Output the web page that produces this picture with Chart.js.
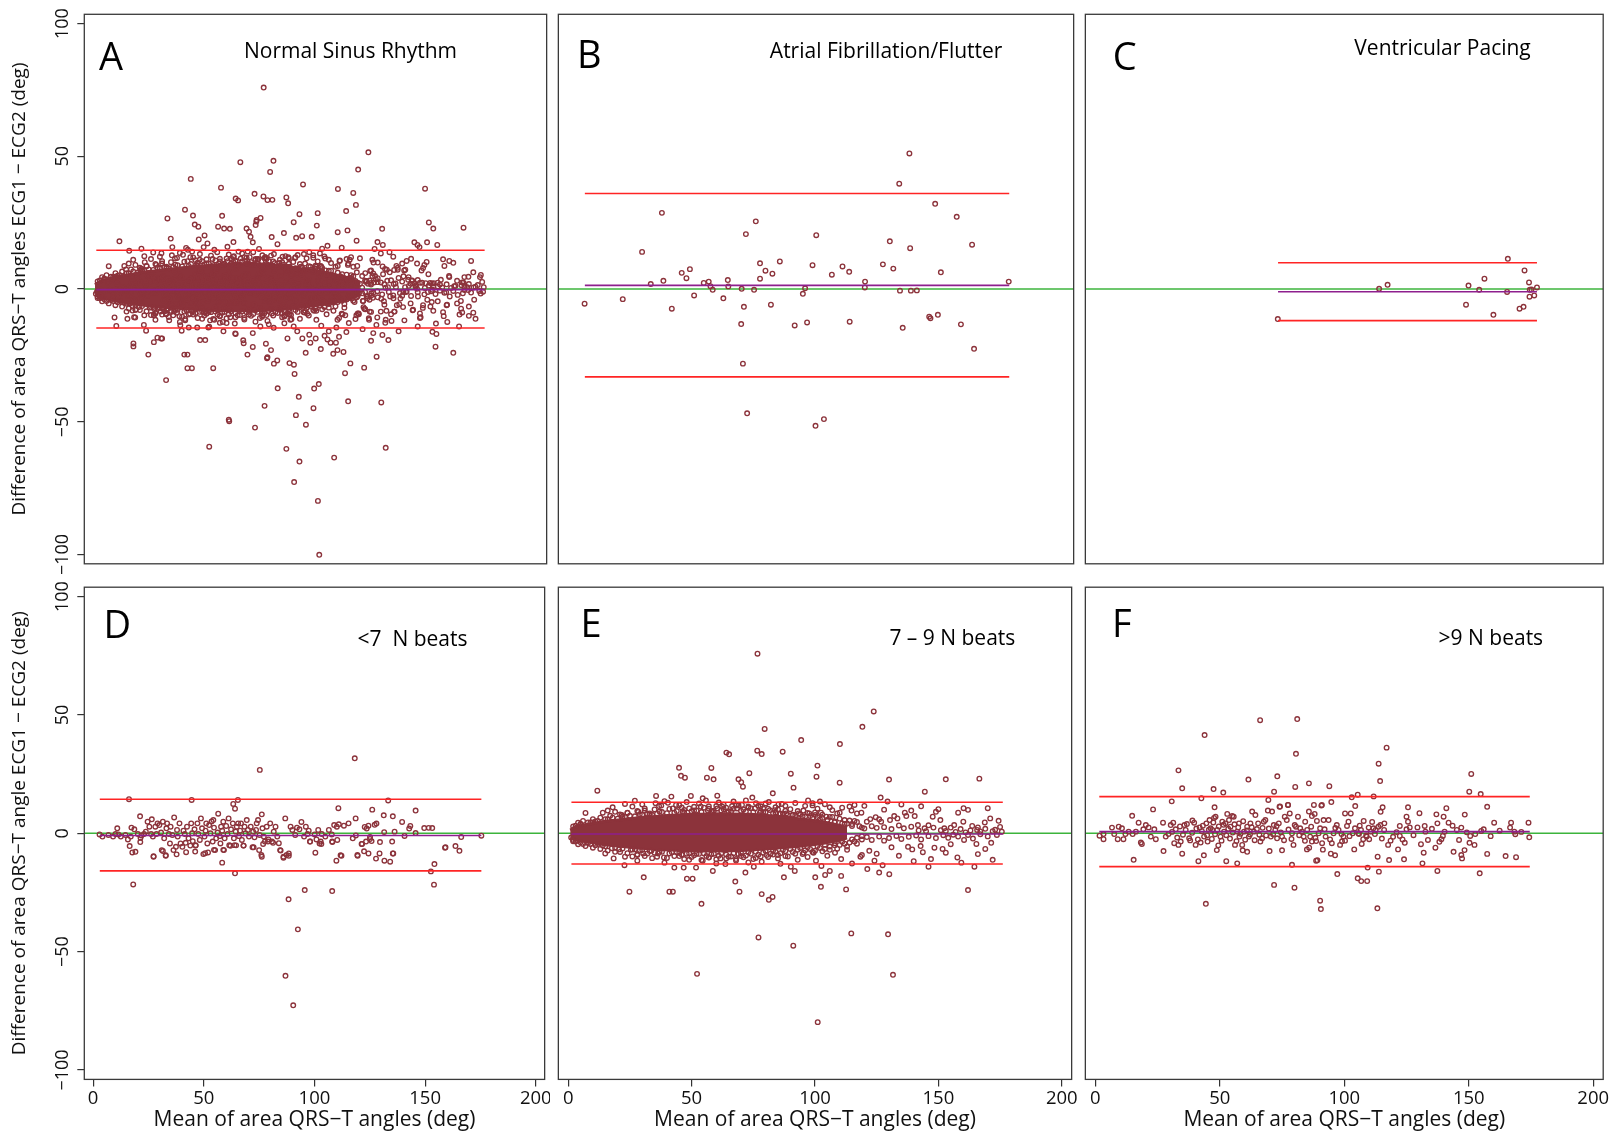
<!DOCTYPE html>
<html><head><meta charset="utf-8">
<script src="https://cdn.jsdelivr.net/npm/chart.js@4.4.1/dist/chart.umd.min.js"></script>
<style>
html,body{margin:0;padding:0;background:#fff;width:1619px;height:1141px;overflow:hidden;}
.p{position:absolute;}
</style></head><body>
<div class="p" style="left:0px;top:0px;width:552px;height:578px"><canvas id="cA"></canvas></div>
<div class="p" style="left:553px;top:0px;width:526px;height:578px"><canvas id="cB"></canvas></div>
<div class="p" style="left:1080px;top:0px;width:539px;height:578px"><canvas id="cC"></canvas></div>
<div class="p" style="left:0px;top:578px;width:550px;height:563px"><canvas id="cD"></canvas></div>
<div class="p" style="left:553px;top:578px;width:524px;height:563px"><canvas id="cE"></canvas></div>
<div class="p" style="left:1080px;top:578px;width:539px;height:563px"><canvas id="cF"></canvas></div>
<script>
// ---------- axes ----------
const xTicks = [0, 50, 100, 150, 200];
const xTickLabels = ['0', '50', '100', '150', '200'];
const yTicks = [-100, -50, 0, 50, 100];
const yTickLabels = ['\u2212100', '\u221250', '0', '50', '100'];
const xTitle = 'Mean of area QRS\u2212T angles (deg)';
const yTitleTop = 'Difference of area QRS\u2212T angles ECG1 \u2212 ECG2 (deg)';
const yTitleBottom = 'Difference of area QRS\u2212T angle ECG1 \u2212 ECG2 (deg)';

// ---------- panel B: atrial fibrillation / flutter ----------
const afibLimits = [36.0, -33.1];
const afibMean = 1.4;
const afibSpan = [6.7, 178.0];
const afibPoints = [[137.7,51.1],[133.6,39.7],[148.1,32.1],[156.8,27.2],[37.8,28.7],[75.7,25.5],[71.7,20.7],[100.1,20.3],[163,16.7],[29.8,14.0],[129.8,18.0],[138,15.4],[85.4,10.4],[77.4,9.7],[98.6,9.0],[127,9.3],[131.2,7.7],[110.7,8.5],[113.4,6.5],[106.4,5.4],[79.6,6.9],[82.4,5.8],[77.4,3.9],[150.4,6.3],[45.8,6.1],[49.1,7.5],[47.7,4.1],[38.4,3.1],[33.3,1.9],[54.7,2.3],[56.7,2.8],[57.4,1.1],[58.3,-0.3],[64.4,3.4],[64.6,1.0],[70,0.1],[75,-0.3],[95.6,0.3],[94.7,-1.8],[119.8,2.8],[119.7,0.6],[133.9,-0.6],[138.3,-0.6],[140.7,-0.5],[177.8,2.8],[50.8,-2.4],[62.6,-3.5],[22,-3.8],[6.6,-5.5],[41.8,-7.4],[70.9,-6.7],[69.8,-13.2],[81.8,-5.9],[91.4,-13.7],[96.4,-12.6],[113.6,-12.3],[135,-14.6],[145.7,-10.4],[146.2,-11],[149.2,-9.7],[158.5,-13.3],[163.8,-22.5],[70.5,-28.1],[72.2,-46.8],[99.8,-51.5],[103.2,-49.0]];

// ---------- panel C: ventricular pacing ----------
const vpLimits = [9.9, -11.9];
const vpMean = -1.0;
const vpSpan = [73.4, 177.4];
const vpPoints = [[165.7,11.4],[172.4,7.0],[156.3,3.9],[174.2,2.5],[149.9,1.3],[154.2,-0.3],[114,0.1],[117.4,1.6],[165.4,-1.1],[174.5,-0.3],[175.2,-0.2],[177.4,0.6],[174.4,-2.9],[176.3,-2.4],[148.9,-5.9],[172,-6.7],[170.4,-7.4],[159.9,-9.7],[73.3,-11.3]];

// ---------- panel D: <7 N beats ----------
const lowLimits = [14.4, -15.9];
const lowMean = -0.9;
const lowSpan = [3.0, 175.4];
const lowPoints = [[2.9,-0.5],[4.2,-1.4],[6.9,-0.7],[9.0,-1.4],[10.1,-0.3],[10.9,2.1],[11.4,-0.5],[12.5,-1.4],[14.6,-0.7],[15.7,-2.6],[16.5,-5.4],[17.0,-1.4],[17.3,2.4],[17.7,-8.1],[18.6,1.7],[19.1,-7.8],[20.2,-0.3],[21.4,-1.9],[21.2,7.2],[21.8,-0.9],[23,-0.3],[23.8,0.7],[24.6,4.9],[25.4,2.8],[26.2,-0.3],[26.5,5.9],[27,-1.4],[27.3,-9.7],[28.1,2.8],[28.6,-0.3],[29.1,4.2],[29.9,3.5],[30.7,0.3],[31,-7.1],[31.5,4.9],[32.1,-2.1],[32.8,-9.3],[33.1,2.1],[33.4,4.2],[34.2,-0.3],[34.7,-4.3],[35,2.8],[35.8,-0.7],[36.3,-7.1],[36.6,6.7],[37.4,-5.7],[37.9,1.4],[38.2,-1.4],[39,4.2],[39.5,-4.3],[40.3,-5.7],[40.8,1.1],[41.4,-0.3],[41.8,-4.0],[42.4,2.8],[43.1,-2.1],[43.9,-5.2],[44.3,4.2],[44.7,0.0],[45,-3.3],[45.8,1.7],[46.3,-5.0],[47.1,4.2],[47.5,-0.3],[48.2,-2.8],[48.7,6.3],[49.2,2.1],[49.8,-8.8],[50.3,-1.4],[50.8,1.1],[51.1,4.2],[51.6,-4.3],[51.9,-8.1],[52.4,3.5],[53,0.0],[53.5,5.0],[54,-3.5],[54.3,5.6],[54.6,2.4],[55.1,-7.1],[55.6,-2.1],[56.2,0.3],[56.5,8.3],[57.2,-1.2],[57.5,-4.3],[57.8,2.8],[58.3,1.1],[58.8,4.9],[59.1,-7.1],[59.4,-2.1],[60.1,3.1],[60.7,-0.3],[61.2,6.3],[61.5,-5.0],[62.3,1.7],[63.1,4.2],[63.6,-2.1],[63.9,-5.0],[64.4,0.7],[64.9,2.8],[65.5,4.2],[65.9,-1.2],[66.4,1.1],[66.8,4.2],[67.2,-2.8],[67.9,-5.2],[68.4,2.8],[68.8,0.0],[69.4,5.6],[69.9,1.4],[70.4,-1.4],[71.2,2.8],[72,-5.9],[72.3,0.7],[72.9,-1.7],[73.6,1.4],[73.9,4.2],[74.5,5.6],[75.2,-0.7],[76,-9.2],[76.2,8.0],[76.5,2.1],[77.1,-1.4],[77.6,-3.5],[78.4,2.8],[79.2,-2.6],[80,4.2],[80.8,-3.5],[81.6,0.7],[82.4,2.8],[83.2,-1.4],[84.5,-7.1],[86,-9.9],[86.8,6.3],[87.4,-9.2],[88.4,-9.5],[89.2,2.8],[90,1.4],[91.3,-0.7],[92.1,2.4],[93.2,1.7],[94.1,4.8],[95.3,-1.4],[96.1,2.8],[96.9,-0.3],[97.4,1.1],[98,-3.5],[100.1,-0.5],[100.9,-2.6],[101.7,1.4],[102.3,-4.3],[103.3,-0.3],[104.9,-1.4],[106.5,1.4],[107.8,-0.5],[108.1,-3.7],[108.9,3.5],[110.1,2.8],[111,3.8],[111.8,-9.3],[113.3,3.2],[115.4,4.2],[117.3,-2.1],[118.6,6.3],[118.7,-0.9],[119.4,-9.2],
[121.5,-4.5],[122.7,2.7],[123.6,2.0],[124.4,3.2],[125.1,-1.6],[125.1,-2.4],[126.1,10.0],[125.8,-3.3],[127.2,3.6],[128,4.1],[129.6,-3.7],[131.3,7.6],[131.5,0.5],[133.3,13.9],[135.1,-3.5],[135.4,7.2],[135.4,-8.5],[136.2,0.7],[139.6,4.8],[140.7,-1.1],[143.3,3.1],[142.8,2.0],[145.7,9.6],[145.7,0.1],[149.6,2.2],[151.6,2.3],[153.2,2.2],[159.2,-5.9],[163.7,-5.4],[165.5,-7.4],[166.3,-1.6],[175.4,-1.0],
[118.2,31.7],[75.3,26.8],[16.2,14.4],[44.5,14.1],[65.4,14.1],[63.3,12.4],[64.1,10.4],[110.8,10.6],
[18.1,-21.6],[64.1,-16.9],[58.3,-12.4],[95.6,-24.0],[108,-24.4],[88.3,-27.9],[92.5,-40.6],[86.9,-60.2],[90.4,-72.7],[152.6,-16.1],[154,-21.7],[154.2,-13.0],[159,-6.1],[27.3,-9.9],[32.8,-9.5],[31.5,-7.5],[37.7,-8.9],[42,-8.0],[46.1,-7.7],[21.3,-3.7],[50.6,-8.4],[46.3,-5.2],[54.6,-7.0],[58.8,-7.0],[62,-5.3],[64.6,-5.1],[68,-5.2],[72.5,-5.9],[75,-7.1],[76.2,-9.9],[76.8,-4.5],[79,-3.5],[81.3,-4],[83.9,-4.2],[84.7,-7.3],[86,-10.3],[88.4,-8.5],[100.4,-8.2],[109.9,-11.6],[112.2,-9.5],[119.5,-9.5],[122.4,-7.6],[124.4,-8.5],[127.8,-10.7],[129.4,-8.5],[131.6,-11.6],[134.2,-12],[135.6,-8.5],[121.3,-4.5],[123.3,-3.5],[108,-3.5],[110.3,-2.8],[102.8,-3.5],[103.1,-4.5],[98,-3.5]];

// ---------- panel E: 7-9 N beats ----------
const midLimits = [13.1, -13.0];
const midMean = -0.3;
const midSpan = [1.3, 176.1];
// overplotted (solid) core of the cloud: envelope
const midCoreX = [0.8, 3, 7, 12, 18, 26, 34, 42, 50, 58, 66, 74, 82, 90, 98, 104, 109, 113];
const midCoreUpper = [1.4, 2.8, 3.6, 4.6, 5.4, 6.3, 7.0, 7.6, 8.0, 8.2, 8.2, 8.0, 7.4, 6.6, 5.6, 4.6, 3.6, 2.4];
const midCoreLower = [-2.0, -2.8, -3.5, -4.4, -5.2, -6.0, -6.6, -7.1, -7.4, -7.5, -7.4, -7.1, -6.5, -5.8, -5.0, -4.1, -3.2, -2.0];
const midPoints = [[76.7,75.9],[123.8,51.5],[119.2,45.0],[79.6,44.1],[94.4,39.4],[110.1,37.7],[64.1,34.1],[65.2,33.4],[76.6,34.9],[78.4,33.5],[86.9,34.5],[44.9,27.7],[58,27.6],[101,28.6],[45.7,24.3],[47.3,23.5],[56.2,23.5],[58.9,22.8],[73.4,25.4],[90.2,25.2],[100.6,23.9],[69,22.8],[70.1,21.6],[70.8,19.7],[91.3,19.3],[110,21.4],[130,22.7],[153,22.8],[166.6,23.1],[11.8,18.0],
[7.0,8.6],[9.8,4.6],[14.0,8.7],[16.0,9.6],[19.0,9.1],[21.7,7.7],[24,8.7],[26,11.3],[28.4,9.1],[31,10.5],[33,8.4],[35.4,12.7],[35.6,15.8],[36.8,11.5],[37.7,11.7],[40.4,12.9],[41.8,15.5],[42.4,10.5],[43.7,12.0],[46.4,9.1],[49,10.5],[49.7,15.8],[51,9.6],[53.7,11.3],[54.5,14.8],[55.8,13.9],[56.6,9.6],[58.5,9.1],[60.4,15.9],[60.4,10.5],[62.4,11.3],[64.4,8.7],[66.4,11.5],[68.4,10.5],[70.4,12.0],[73,11.3],[74.6,15.1],[75.7,10.5],[76.1,12.7],[77.7,8.7],[79,10.5],[81.3,13.2],[81.7,9.8],[82.9,16.9],[83.7,9.8],[85.2,12.2],[85.7,8.4],[86.5,12.4],[88.4,8.4],[91,7.7],[93.4,8.4],[95.3,9.6],[97.2,13.9],[97.7,8.4],[99,12.7],[99,11.8],[100.1,7.7],[102,13.4],[102.4,8.7],[104.6,7.0],[107,9.8],[109,8.4],[110,8.7],[114,11.3],[114.8,9.6],[117,8.4],[118.8,8.7],[121,4.9],[122.4,6.0],[124.6,6.8],[126,5.9],[126.6,15.1],[126.8,4.9],[129.4,13.4],[130.4,5.6],[132.1,7.3],[133.4,6.3],[136.4,8.7],[137,7.3],[140.4,7.3],[141.7,3.5],[144.4,2.1],[144.5,17.6],[147.7,7.0],[149,9.1],[150.8,5.6],[152.4,2.1],[156.4,3.5],[160.1,4.9],[160.2,10.6],[163.7,3.1],[165.7,1.4],[168.8,4.6],[171,6.3],[174.4,5.3],[175.7,0.7],
[3,3.2],[5,4.0],[8,4.6],[12,5.2],[15,6.0],[18,6.6],[22,7.0],[25,7.4],[29,8.1],[32,8.3],[34,7.8],[38,9.0],[44,9.4],[47,9.9],[52,9.6],[57,10.4],[59,9.5],[63,10.2],[65,9.3],[67,10.4],[71,10.1],[72,9.2],[74,10.6],[78,9.4],[80,9.0],[84,8.8],[87,8.4],[89,7.7],[92,7.6],[94,8.0],[96,7.1],[98,7.3],[101,6.8],[103,6.5],[105,5.6],[106,6.9],[108,5.0],[111,4.2],[112,5.6],[113,4.1],[115,3.9],[116,5.2],[118,3.0],[120,2.0],[123,3.0],[125,2.3],[128,2.6],[131,1.8],[134,3.3],[136,2.1],[139,2.8],[142,1.2],[145,0.9],[146,3.4],[148,2.4],[151,1.3],[153,1.0],[155,2.4],[157,0.6],[159,1.8],[161,0.4],[163,1.2],[166,2.5],[167,0.8],[169,1.9],[172,0.9],[173,1.5],[175,2.7],
[2,2.9],[4,4.5],[5,3.6],[6,5.2],[9,4.6],[10,6.0],[11,5.0],[13,6.6],[16,5.9],[17,7.4],[20,6.2],[21,8.0],[23,6.9],[24,8.6],[27,7.2],[28,9.4],[30,7.8],[31,9.6],[33,7.9],[35,10.1],[36,8.3],[37,9.2],[40,8.5],[41,10.3],[43,8.7],[46,10.9],[47,8.8],[50,9.3],[51,11.2],[54,9.0],[55,10.8],[58,9.3],[60,11.5],[62,9.6],[64,10.8],[66,9.2],[68,12.0],[70,9.5],[73,10.9],[75,9.0],[77,11.6],[79,8.9],[81,10.4],[83,8.5],[85,10.1],[86,8.2],[88,9.5],[91,7.8],[93,9.4],[95,7.2],[97,8.6],[99,6.6],[100,8.8],[102,6.0],[103,7.9],[105,5.6],[107,6.9],[108,4.6],[110,6.2],[112,3.9],[114,5.4],[115,3.1],[117,4.8],[119,2.4],
[18,11.0],[23,12.4],[27,13.8],[30,12.2],[39,13.6],[45,11.9],[48,13.2],[53,12.6],[57,11.4],[61,13.0],[63,12.1],[67,13.4],[69,11.8],[72,13.9],[78,11.4],[80,12.6],[84,11.0],[88,11.6],[90,10.2],[92,12.8],[96,11.6],[101,10.4],[104,12.3],[106,11.0],[111,10.8],[116,12.0],[120,11.6],[128,10.0],[135,12.2],[139,9.6],[143,11.4],[150,10.2],[158,8.7],[162,9.9],[170,10.6],
[2,-2.8],[3,-3.5],[6,-4.5],[8,-4.1],[12,-4.5],[14,-5.2],[17.7,-6.3],[20.6,-6.8],[25.4,-7.0],[27,-6.8],[30,-7.1],[33.7,-7.4],[35,-8.2],[38,-7.8],[41,-8.5],[44,-8.0],[46,-9.0],[48,-8.6],[51,-9.3],[53,-8.7],[56,-9.6],[58,-8.9],[61,-9.5],[64,-9.0],[66,-9.8],[69,-8.7],[72,-9.4],[74,-8.6],[77,-9.1],[79,-8.2],[82,-8.6],[84,-7.8],[86,-8.4],[88,-7.5],[91,-7.9],[93,-6.9],[96,-7.2],[98,-6.6],[100,-7.4],[102,-6.2],[104,-6.6],[106,-5.6],[108,-5.1],[110,-4.9],[112,-4.4],[114,-3.9],[116,-3.5],[117,-1.9],[119,-2.6],[121,-1.6],[123,-2.8],[126,-1.4],[128,-3.1],[130,-2.0],[133,-1.1],[135,-2.4],[138,-1.5],[141,-0.9],[143,-2.6],[146,-1.2],[149,-2.0],[152,-0.8],[154,-1.9],[156,-0.6],[158,-1.4],[162,-0.7],[164,-2.2],[167,-0.4],[170,-1.3],[173.7,-0.7],
[2,-3.4],[4,-4.6],[5,-3.8],[7,-5.4],[9,-4.5],[10,-6.1],[11,-5.0],[13,-6.6],[15,-5.5],[16,-7.3],[19,-6.1],[21,-7.9],[22,-6.4],[24,-8.4],[26,-6.8],[28,-8.9],[29,-7.1],[31,-9.6],[33,-7.5],[36,-9.9],[37,-7.8],[40,-10.4],[42,-8.0],[43,-9.6],[45,-8.3],[47,-10.9],[49,-8.4],[50,-10.0],[52,-8.6],[54,-11.3],[55,-8.5],[57,-10.2],[59,-8.6],[60,-11.0],[62,-8.4],[64,-10.6],[67,-8.4],[68,-10.9],[70,-8.2],[71,-10.1],[73,-8.0],[75,-10.9],[76,-7.8],[78,-9.8],[80,-7.5],[81,-10.0],[83,-7.3],[85,-9.2],[87,-6.9],[88,-9.6],[90,-6.6],[92,-8.6],[94,-6.2],[95,-8.8],[97,-5.9],[99,-7.9],[101,-5.4],[103,-7.6],[104,-4.9],[106,-7.0],[108,-4.2],[109,-6.5],[111,-3.6],[113,-5.6],[115,-2.6],[117,-4.4],[119,-1.2],
[1.2,-1.8],[18.4,-10.6],[23,-9.9],[22.8,-13.5],[24.8,-24.7],[28,-9.2],[28,-11.6],[30.4,-8.5],[30.6,-18.6],[32.1,-8.5],[36.4,-8.5],[38.8,-10.2],[41,-24.7],[42.4,-24.7],[43,-14.5],[46.8,-14.5],[48.1,-19.2],[50.4,-19.2],[51.8,-14.5],[54,-29.8],[54.5,-11.6],[58.6,-15.9],[61.7,-10.6],[63.7,-13],[67.7,-20.4],[69.4,-24.7],[71.8,-16.6],[75.2,-14.1],[78.4,-25.7],[81.3,-28.1],[82.8,-26.9],[78.4,-12],[80.4,-9.2],[85,-10.6],[87.4,-18.6],[90.2,-14.1],[91.8,-15.9],[95.4,-8.2],[99.4,-8.2],[100.1,-18.6],[100.4,-11.6],[102.4,-22.6],[102.6,-13.8],[104.1,-17.6],[106,-15.9],[108.1,-8.2],[110.6,-10.9],[110.6,-18],[112.6,-23.7],[118.4,-9.9],[119,-9.2],[121.2,-15.1],[124.1,-11.6],[126,-16.6],[127.4,-13.5],[130.1,-17.3],[131,-5.9],[137.7,-5.7],[139.4,-6.8],[142.8,-5.4],[143.7,-8],[146,-14.1],[147,-10.9],[148.4,-6.1],[151.7,-6.6],[157.7,-10.2],[159.3,-12.4],[162,-24],[164.6,-14.1],[169,-6.6],[171.4,-4],[165.4,-4.5],[160.4,-2.8],
[15,-8.5],[19,-7.8],[26,-9.8],[34,-10.5],[39,-12.4],[45,-9.6],[49,-11.2],[57,-10.1],[60,-12.8],[65,-9.9],[68,-11.5],[70,-9.6],[73,-12.3],[76,-10.4],[83,-9.0],[86,-12.9],[89,-9.8],[93,-11.2],[97,-10.0],[105,-9.5],[113,-7.0],[115,-12.8],[122,-7.4],[125,-8.6],[134,-9.5],[140,-11.8],[153,-8.2],[155,-4.6],[166,-8.8],[172,-11.2],
[52.2,-59.4],[77.1,-44],[91.2,-47.5],[114.7,-42.3],[129.6,-42.7],[131.6,-59.8],[101.1,-79.8]];

// ---------- panel F: >9 N beats ----------
const highLimits = [15.5, -14.1];
const highMean = 0.7;
const highSpan = [1.6, 174.5];
const highPoints = [[66.2,47.8],[81.1,48.3],[43.9,41.5],[80.6,33.6],[117,36.2],[113.8,29.4],[114.4,22.1],[33.4,26.6],[34.9,19],[61.5,22.7],[73.1,24.1],[151,25.1],[150.2,17.6],[154.8,16.6],[80.3,19.6],[85.8,21.1],[94,19.9],[71.8,17.6],[47.5,18.7],[51.4,17.2],[42.6,14.8],[30.7,13.5],[69.5,14.1],[94.8,13.2],[103,15.2],[105.4,16.3],[111.8,15.6],[104.4,11.5],[87.8,12],[90.8,11.7],[77.4,12],[74,11.2],[47.9,11],[23.2,10.1],[14.8,7.4],[125.6,11],[141,10.6],[157.4,11.2],[115.4,11],[114.6,9.1],[130.2,8.5],[137,8],[139.9,7],[148.4,7.9],[141.9,4.5],[137.4,4.2],[160.2,4.5],[167,4.5],[174,4.5],[166.6,2.4],[168.3,0.7],[168.7,-0.4],[174.3,-1.7],[156,1.7],[155,1],[152.6,-0.3],[150.6,-1.1],[152.3,-4.9],[150.3,-4],[147,2.4],[145.2,1.4],[139.6,-1.1],[140.3,0.7],[139,-2.5],[136.6,-6.1],[133.6,-2.8],[131.9,-8.2],[131.4,-12.7],[137.4,-15.9],[143.9,-7.8],[147,-9.2],[147.3,-10.6],[148.3,-7.1],[154.4,-16.9],[157.4,-8.7],[164.8,-9.6],[169,-10.1],[124.3,-4],[122.3,-1.1],[121.6,-6.8],[124,-11],[118,-11.3],[117.6,-4.9],[118.6,-3.1],[121,0.5],[125,1.7],[126.3,2.5],[129.4,2.5],[132.3,3.1],[132.6,0.7],[125.6,4.9],[125,7],[122.3,3.1],[116,1.4],[113.4,-9.9],[113.9,-16.2],[113.3,-31.7],[109.4,-14.5],[109.2,-20.2],[106.8,-20.2],[105.4,-19],[97.2,-17.2],[96.3,-9.3],[94.6,-8.6],[91.4,-6.9],[89.2,-11.4],[88.7,-11.6],[90.3,-28.5],[90.6,-32],[80,-23],[79,-13.3],[71.8,-21.8],[61,-7.8],[59.2,-7.2],[57,-12.7],[52.6,-11.8],[48.8,-7.1],[44.4,-29.8],[43.6,-9.3],[41.4,-11.8],[34.9,-8.6],[27.4,-7.5],[15.4,-11.2],[70,-7.5],[75,-7.2],[79.6,-4.9],[85,-6.8],[85.9,-6.1],[87,-3.5],[88.7,-3.3],[91.1,-4.2],[95,-4.2],[98.3,-4.9],[100.3,-3.1],[104,-6.8],[107.6,-2.5],[110,-2.5],[112.3,-0.3],[107,-4.5],[105.9,-0.3],
[1.7,-1.0],[3.3,-2.5],[3.3,-0.3],[6.7,2.4],[7.6,-0.3],[9,-2.5],[9.4,2.8],[10.7,2.1],[11.3,-2.5],[12.1,-0.3],[13.4,0.7],[15,-0.3],[16.3,0.7],[17.4,4.5],[18.3,-3.9],[18.7,-4.5],[19.3,1.7],[20.3,3.5],[21.4,2.5],[22.3,-1.4],[23.7,1.7],[24.3,-2.5],[27.2,4.5],[28.3,-1.4],[29.4,-0.3],[30.3,3.5],[31.3,4.5],[31.7,-4.2],[32.3,1.7],[33.4,-4.9],[34.3,-3.5],[35.8,3.5],[36.3,1.4],[37.7,-2.1],[39,5.4],[39.7,4.5],[40.3,-4.9],[41.9,2.5],[42.3,-3.9],[43.7,-1.4],[44.6,4.2],[45.1,-3.5],[45.9,5.6],[46.3,2.1],[47,1.4],[47.7,6.5],[48.3,7.0],[49,1.4],[49.4,-5.1],[50.3,-1.4],[51,4.9],[51.7,0.7],[52.3,4.2],[53,8.2],[53.7,5.6],[54.3,2.8],[55,7.3],[55.6,7.0],[56.1,-4.9],[57,0.7],[57.7,4.2],[57.9,-1.4],[59,-4.9],[59.7,0.7],[61,2.8],[61.7,-1.4],[62.3,4.2],[63,9.2],[63.7,0.7],[64.3,7.7],[65.4,4.2],[66.3,-3.5],[67,-2.1],[67.7,4.9],[68.3,5.6],[69.3,9.6],[70.5,-1.4],[71,9.2],[71.7,3.5],[72.3,1.4],[73,-2.1],[73.7,4.2],[74.2,11.3],[75,-1.4],[76.1,7.0],[76.9,5.6],[77.4,12],[78.1,8.4],[79,0],[80.1,3.5],[80.6,2.8],[81.4,7.0],[82.3,2.1],[83,0.7],[83.7,-1.4],[84.3,4.9],[85.1,1.4],[85.8,9.2],[86.3,-1.4],[87,7.3],[88.1,8.2],[89,5.2],[89.7,0],[90.3,2.1],[91,12],[91.7,5.6],[92.5,-1.4],[93.7,5.6],[95.7,0],[97,3.5],[97.7,1.4],[98.9,-0.3],[99.7,-1.4],[100.3,8.4],[101.1,3.1],[101.7,4.9],[102.6,8.4],[103.4,0],[104.3,2.1],[105.7,0],[106.7,1.4],[107.8,5.2],[109,-1.4],[109.8,2.4],[110.6,0.7],[111.7,2.1],[112.6,1.4],[113.7,2.8],[114.5,3.5],[116.1,4.2],
[30.8,0.6],[32.9,-1.8],[34.0,2.9],[35.2,-0.6],[36.8,3.9],[38.1,-3.0],[38.9,0.2],[40.6,2.0],[41.2,-2.6],[42.8,0.9],[43.2,3.2],[44.9,-0.8],[45.6,1.5],[46.8,-2.4],[47.4,4.6],[48.1,-0.4],[49.6,2.9],[50.7,-3.1],[51.5,3.6],[52.6,-0.8],[53.4,1.9],[54.1,-2.2],[55.2,0.3],[55.9,3.8],[56.7,-3.3],[57.4,2.5],[58.3,-0.2],[59.4,5.1],[60.2,-2.7],[60.9,1.2],[62.1,-0.5],[62.8,2.6],[64.0,-2.9],[64.9,1.8],[65.9,-0.6],[67.2,2.3],[68.6,-0.9],[69.7,2.0],[71.4,-0.4],[72.8,3.0],[74.5,0.4],[75.8,-2.9],[77.6,1.6],[78.8,-2.4],[81.9,-0.8],[84.2,-3.2],[86.7,2.8],[88.4,-1.9],[92.1,1.7],[94.3,-2.6],[96.4,2.2],[99.1,-3.4],[102.1,-1.2],[106.2,3.2],[108.8,-0.9],[111.2,4.8],[115.1,-2.2],[119.6,-1.5],[123.4,-2.6],[127.8,-0.8],[130.8,-4.6],[135.2,1.9],[138.2,-3.6],[143.5,3.2],[146.1,-2.8],[149.2,0.4],[158.8,-1.2],[162.4,1.1],[171.1,0.6]];

// ---------- panel A: normal sinus rhythm (pooled) ----------
const nsrLimits = [14.6, -14.7];
const nsrMean = -0.2;
const nsrSpan = [1.4, 176.1];
const nsrCoreX = [0.8, 3, 7, 12, 18, 26, 34, 42, 50, 58, 66, 74, 82, 90, 98, 105, 111, 116, 120];
const nsrCoreUpper = [1.6, 2.9, 3.9, 4.9, 5.7, 6.7, 7.5, 8.2, 8.8, 9.2, 9.4, 9.3, 8.9, 8.1, 7.1, 6.1, 5.0, 3.8, 2.3];
const nsrCoreLower = [-2.1, -3.1, -3.9, -4.8, -5.6, -6.4, -7.0, -7.5, -7.9, -8.1, -8.2, -8.1, -7.8, -7.2, -6.4, -5.6, -4.6, -3.5, -2.1];
// NSR recordings visible in panel A that do not appear in panels D-F
const nsrOnlyPoints = [[57.5,38.2],[149.3,37.8],[72.6,35.9],[87.7,32.3],[41.3,29.9],[92.8,28.2],[73.5,26],[50.1,20.2],[98.3,19.7],[118.5,18.2],[127.9,17.7],[145.9,16.6],[146.8,15.8],[63.1,17.7],[21.7,15.2],[130.3,16.6],
[101.7,-100.1],[92.8,-65],[108.4,-63.5],[95.7,-51.1],[72.8,-52.2],[61,-49.2],[61.2,-49.8],[99.1,-44.9],[83,-37.4],[99.4,-37.5],[101.5,-35.8],[32.8,-34.3],[115.7,-28],[42.4,-29.8],[121.9,-29.6],[127.5,-25.5],[78.2,-26.1],[109.9,-23],[18.1,-20.5],[27.3,-20],[28.9,-18.3],[31,-18.6],[67.5,-19.3],[77.7,-20.6],[94.1,-18.6],[97.7,-20.2],[125,-19.5],[132.8,-19.2],[171,-8.9],[9.6,-10.7],[10.4,-13.9],[18.9,-10.7],[23.8,-15.7],[34.2,-11.8],[39.2,-13.6],[39.8,-15.7],[41.4,-11.3],[52.2,-14.2],[63.9,-16.7],[81.2,-14.6]];
const nsrPoints = [].concat(nsrOnlyPoints, lowPoints, midPoints, highPoints);

// ---------- drawing ----------
const FONT = "'Open Sans', sans-serif";
const PT = '#8c333b';
const X_MIN = -4, X_MAX = 204;

const frameAndText = {
  id: 'frameAndText',
  afterDraw(chart, args, o) {
    const {ctx, chartArea: a} = chart;
    ctx.save();
    ctx.strokeStyle = '#3a3a3a';
    ctx.lineWidth = 1.3;
    ctx.strokeRect(a.left, a.top, a.right - a.left, a.bottom - a.top);
    ctx.fillStyle = '#000';
    ctx.textBaseline = 'alphabetic';
    ctx.textAlign = 'left';
    ctx.font = '38px ' + FONT;
    ctx.fillText(o.letter, a.left + o.lx, a.top + o.ly);
    ctx.textAlign = 'center';
    ctx.font = '21px ' + FONT;
    ctx.fillText(o.title, a.left + o.tx, a.top + o.ty);
    ctx.restore();
  }
};

function measure(txt, font) {
  const c = document.createElement('canvas').getContext('2d');
  c.font = font;
  return c.measureText(txt).width;
}
const widestY = Math.max(...yTickLabels.map(t => measure(t, '18px ' + FONT)));

function hline(x0, x1, v, color, order) {
  return {type: 'line', data: [{x: x0, y: v}, {x: x1, y: v}], borderColor: color, borderWidth: 1.6,
          pointRadius: 0, fill: false, order: order};
}

function makePanel(id, p) {
  const ds = [];
  ds.push(hline(X_MIN, X_MAX, 0, '#3cb43c', 9));
  if (p.coreX) {
    ds.push({type: 'line', data: p.coreX.map((x, i) => ({x: x, y: p.coreUp[i]})), borderColor: PT,
             backgroundColor: PT, borderWidth: 3, pointRadius: 0, tension: 0.3, fill: '+1', order: 8});
    ds.push({type: 'line', data: p.coreX.map((x, i) => ({x: x, y: p.coreLow[i]})), borderColor: PT,
             borderWidth: 3, pointRadius: 0, tension: 0.3, fill: false, order: 8});
  }
  ds.push({type: 'scatter', data: p.points.map(d => ({x: d[0], y: d[1]})), pointRadius: 2.3,
           pointBorderWidth: 1.35, pointBorderColor: PT, pointBackgroundColor: 'rgba(0,0,0,0)', order: 5});
  ds.push(hline(p.span[0], p.span[1], p.mean, '#8e1f8e', 3));
  p.limits.forEach(v => ds.push(hline(p.span[0], p.span[1], v, '#ff2424', 2)));

  new Chart(document.getElementById(id), {
    type: 'scatter',
    data: {datasets: ds},
    options: {
      responsive: true, maintainAspectRatio: false, animation: false, devicePixelRatio: 1,
      events: [],
      layout: {padding: p.pad},
      plugins: {legend: {display: false}, tooltip: {enabled: false},
                frameAndText: {letter: p.letter, title: p.title, lx: p.lx, ly: p.ly, tx: p.tx, ty: p.ty}},
      scales: {
        x: {
          type: 'linear', min: X_MIN, max: X_MAX, display: p.showX,
          afterBuildTicks: s => { s.ticks = xTicks.map(v => ({value: v})); },
          afterFit: s => { s.height = p.xH || 0; s.paddingLeft = 0; s.paddingRight = 0; },
          grid: {display: true, drawOnChartArea: false, drawTicks: true, tickLength: 7, color: '#333', lineWidth: 1.2},
          border: {display: false},
          ticks: {autoSkip: false, maxRotation: 0, minRotation: 0, padding: 1, color: '#111',
                  font: {family: FONT, size: 18.5}, callback: (v, i) => xTickLabels[i]},
          title: {display: p.showX, text: xTitle, color: '#111', font: {family: FONT, size: 21},
                  padding: {top: 0, bottom: 8.4}}
        },
        y: {
          type: 'linear', min: -p.yR, max: p.yR, display: p.showY, position: 'left',
          afterBuildTicks: s => { s.ticks = yTicks.map(v => ({value: v})); },
          afterFit: s => { s.width = p.yW || 0; s.paddingTop = 0; s.paddingBottom = 0; },
          grid: {display: true, drawOnChartArea: false, drawTicks: true, tickLength: 7, color: '#333', lineWidth: 1.2},
          border: {display: false},
          ticks: {autoSkip: false, minRotation: 90, maxRotation: 90, crossAlign: 'center',
                  padding: 14.8 - widestY / 2, color: '#111', font: {family: FONT, size: 18},
                  callback: (v, i) => yTickLabels[i]},
          title: {display: p.showY, text: p.yTitle, color: '#111', font: {family: FONT, size: 19},
                  padding: {top: 8.5, bottom: 0}}
        }
      }
    },
    plugins: [frameAndText]
  });
}

makePanel('cA', {points: nsrPoints, coreX: nsrCoreX, coreUp: nsrCoreUpper, coreLow: nsrCoreLower,
  limits: nsrLimits, mean: nsrMean, span: nsrSpan, yR: 103.5, showX: false, showY: true, yW: 84.3,
  yTitle: yTitleTop, pad: {left: 0, right: 4.9, top: 14.3, bottom: 14.2},
  letter: 'A', title: 'Normal Sinus Rhythm', lx: 14.7, ly: 55.7, tx: 266.2, ty: 44});
makePanel('cB', {points: afibPoints, limits: afibLimits, mean: afibMean, span: afibSpan, yR: 103.5,
  showX: false, showY: false, pad: {left: 3.5, right: 4.2, top: 14.3, bottom: 14.2},
  letter: 'B', title: 'Atrial Fibrillation/Flutter', lx: 18.7, ly: 53.4, tx: 327.8, ty: 43.4});
makePanel('cC', {points: vpPoints, limits: vpLimits, mean: vpMean, span: vpSpan, yR: 103.5,
  showX: false, showY: false, pad: {left: 4, right: 15.8, top: 14.3, bottom: 14.2},
  letter: 'C', title: 'Ventricular Pacing', lx: 27.3, ly: 55.7, tx: 357.2, ty: 40.7});
makePanel('cD', {points: lowPoints, limits: lowLimits, mean: lowMean, span: lowSpan, yR: 104,
  showX: true, showY: true, yW: 84.3, xH: 61.6, yTitle: yTitleBottom,
  pad: {left: 0, right: 2.9, top: 9.2, bottom: 0},
  letter: 'D', title: '<7  N beats', lx: 19.3, ly: 51.1, tx: 328.2, ty: 58.8});
makePanel('cE', {points: midPoints, coreX: midCoreX, coreUp: midCoreUpper, coreLow: midCoreLower,
  limits: midLimits, mean: midMean, span: midSpan, yR: 104, showX: true, showY: false, xH: 61.6,
  pad: {left: 3.5, right: 2.2, top: 9.2, bottom: 0},
  letter: 'E', title: '7 \u2013 9 N beats', lx: 22.1, ly: 49.8, tx: 394, ty: 57.8});
makePanel('cF', {points: highPoints, limits: highLimits, mean: highMean, span: highSpan, yR: 104,
  showX: true, showY: false, xH: 61.6, pad: {left: 4, right: 15.8, top: 9.2, bottom: 0},
  letter: 'F', title: '>9 N beats', lx: 26.6, ly: 49.8, tx: 405.5, ty: 57.8});
</script>
</body></html>
